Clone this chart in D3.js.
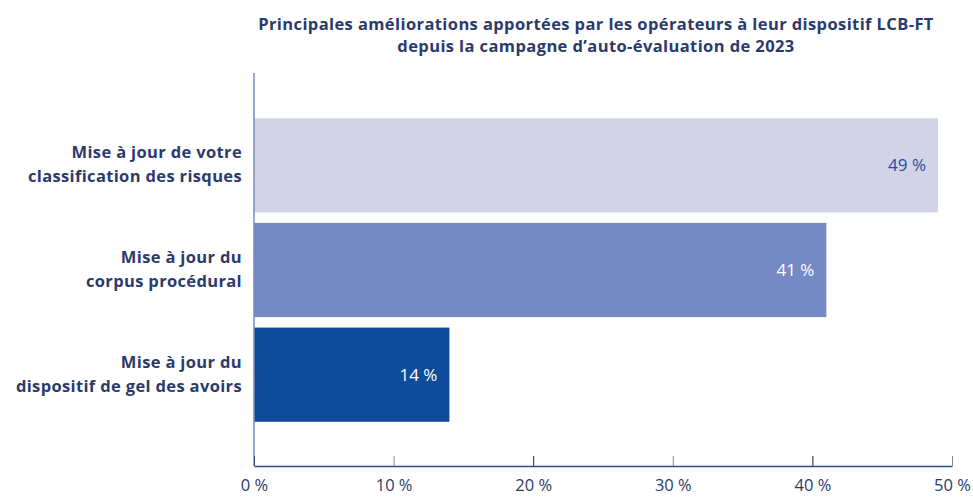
<!DOCTYPE html>
<html>
<head>
<meta charset="utf-8">
<script src="https://cdn.jsdelivr.net/npm/d3@7"></script>
<style>
  body { margin: 0; background: #fff; }
  text { font-family: "Open Sans", sans-serif; }
</style>
</head>
<body>
<div id="chart"></div>
<script>
const categories = [
  ["Mise à jour de votre", "classification des risques"],
  ["Mise à jour du", "corpus procédural"],
  ["Mise à jour du", "dispositif de gel des avoirs"]
];
const values = [49, 41, 14];
const barColors = ["#d2d3e7", "#7589c4", "#0e4b9b"];
const labelColors = ["#1d4f9e", "#ffffff", "#ffffff"];
const tickValues = [0, 10, 20, 30, 40, 50];
const titleLines = [
  "Principales améliorations apportées par les opérateurs à leur dispositif LCB-FT",
  "depuis la campagne d’auto-évaluation de 2023"
];

const width = 973, height = 497;
const navy = "#2b3a6c";

const svg = d3.select("#chart").append("svg")
  .attr("width", width)
  .attr("height", height);

const x = d3.scaleLinear().domain([0, 50]).range([254, 952]);
const y = d3.scaleBand().domain(d3.range(values.length)).range([113, 427]).paddingInner(0.1).paddingOuter(0.05);

// title
svg.append("g").selectAll("text")
  .data(titleLines)
  .join("text")
  .attr("x", 596)
  .attr("y", (d, i) => 30 + i * 22)
  .attr("text-anchor", "middle")
  .attr("font-size", 16.5)
  .attr("font-weight", 700)
  .attr("letter-spacing", 0.4)
  .attr("fill", navy)
  .text(d => d);

// bars
svg.append("g").selectAll("rect")
  .data(values)
  .join("rect")
  .attr("x", x(0))
  .attr("y", (d, i) => y(i))
  .attr("width", d => x(d) - x(0))
  .attr("height", y.bandwidth())
  .attr("fill", (d, i) => barColors[i]);

// value labels
svg.append("g").selectAll("text")
  .data(values)
  .join("text")
  .attr("x", d => x(d) - 12)
  .attr("y", (d, i) => y(i) + y.bandwidth() / 2 + 6)
  .attr("text-anchor", "end")
  .attr("font-size", 17)
  .attr("font-weight", 500)
  .attr("fill", (d, i) => labelColors[i])
  .text(d => d + " %");

// category labels
const cat = svg.append("g").selectAll("text")
  .data(categories)
  .join("text")
  .attr("text-anchor", "end")
  .attr("font-size", 16.5)
  .attr("font-weight", 700)
  .attr("letter-spacing", 0.35)
  .attr("fill", navy);
cat.selectAll("tspan")
  .data((d, i) => d.map(s => ({ s, i })))
  .join("tspan")
  .attr("x", 242)
  .attr("y", (d, j) => y(d.i) + y.bandwidth() / 2 - 7 + j * 24)
  .text(d => d.s);

// y axis line
svg.append("line")
  .attr("x1", x(0)).attr("x2", x(0))
  .attr("y1", 73).attr("y2", 466)
  .attr("stroke", "#7a8ac0")
  .attr("stroke-width", 1.5);

// x axis
const xAxis = svg.append("g")
  .attr("transform", "translate(0,466)")
  .call(d3.axisBottom(x).tickValues(tickValues).tickSize(0).tickPadding(13).tickFormat(d => d + " %"));
xAxis.select(".domain").attr("stroke", "#2b4a8c").attr("stroke-width", 1.5);
xAxis.selectAll(".tick line").remove();
xAxis.selectAll(".tick").append("line")
  .attr("y1", 0).attr("y2", -10)
  .attr("stroke", (d, i) => i === 0 ? "#2b4a8c" : (i % 2 ? "#888" : "#222"))
  .attr("stroke-width", 1);
xAxis.selectAll(".tick text")
  .attr("font-size", 16.5)
  .attr("font-family", "Open Sans, sans-serif")
  .attr("fill", navy);
</script>
</body>
</html>
